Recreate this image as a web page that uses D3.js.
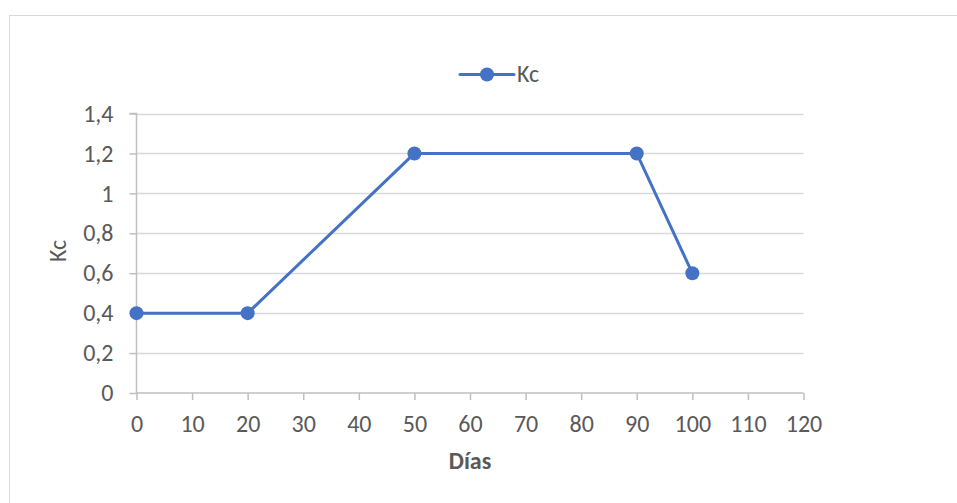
<!DOCTYPE html>
<html><head><meta charset="utf-8">
<script src="https://cdn.jsdelivr.net/npm/d3@7"></script>
<style>
body{margin:0;background:#fff;}
text{font-family:Calibri,Carlito,Lato,"Open Sans",sans-serif;}
</style></head>
<body><svg id="c" width="957" height="503"></svg>
<script>
const days = [0, 20, 50, 90, 100];
const kc = [0.4, 0.4, 1.2, 1.2, 0.6];
const xTicks = [0,10,20,30,40,50,60,70,80,90,100,110,120];
const yTicks = [0,0.2,0.4,0.6,0.8,1.0,1.2,1.4];
const seriesName = "Kc";
const xTitle = "Días";
const yTitle = "Kc";

const FS = "24px";
const svg = d3.select("#c");
svg.append("rect").attr("x",9.5).attr("y",15.5).attr("width",1200).attr("height",800)
  .attr("fill","#fff").attr("stroke","#d9d9d9").attr("stroke-width",1);

const x = d3.scaleLinear().domain([0,120]).range([136.5,803.5]);
const y = d3.scaleLinear().domain([0,1.4]).range([393,113.5]);
const fmt = v => d3.format("")(Math.round(v*10)/10).replace(".", ",");

// gridlines
svg.append("g").selectAll("line").data(yTicks.filter(d=>d>0)).join("line")
  .attr("x1",x(0)).attr("x2",x(120)).attr("y1",d=>Math.round(y(d))+0.5).attr("y2",d=>Math.round(y(d))+0.5)
  .attr("stroke","#d9d9d9").attr("stroke-width",1.5);

// y axis
const ya = svg.append("g").attr("transform",`translate(${x(0)},0)`)
  .call(d3.axisLeft(y).tickValues(yTicks).tickFormat(fmt).tickSize(7).tickPadding(16));
ya.select(".domain").attr("stroke","#bfbfbf").attr("stroke-width",1.5).attr("d",`M-7,${y(1.4)}H0V${y(0)}`);
ya.selectAll(".tick line").attr("stroke","#bfbfbf").attr("stroke-width",1.5);
ya.selectAll(".tick text").attr("fill","#595959").style("font-size",FS);

// x axis
const xa = svg.append("g").attr("transform",`translate(0,${y(0)})`)
  .call(d3.axisBottom(x).tickValues(xTicks).tickFormat(d=>d).tickSize(7).tickPadding(15));
xa.select(".domain").attr("stroke","#bfbfbf").attr("stroke-width",1.5).attr("d",`M${x(0)},0H${x(120)}`);
xa.selectAll(".tick line").attr("stroke","#bfbfbf").attr("stroke-width",1.5);
xa.selectAll(".tick text").attr("fill","#595959").style("font-size",FS);

// titles
svg.append("text").attr("transform",`translate(66,251) rotate(-90)`)
  .attr("text-anchor","middle").attr("fill","#595959").style("font-size",FS).text(yTitle);
svg.append("text").attr("x",470).attr("y",469)
  .attr("text-anchor","middle").attr("fill","#595959").style("font-size",FS).style("font-weight","bold").text(xTitle);

const color = "#4472C4";
const pts = days.map((d,i)=>[d,kc[i]]);
svg.append("path").datum(pts)
  .attr("d",d3.line().x(d=>x(d[0])).y(d=>y(d[1])))
  .attr("fill","none").attr("stroke",color).attr("stroke-width",3).attr("stroke-linejoin","round");
svg.append("g").selectAll("circle").data(pts).join("circle")
  .attr("cx",d=>x(d[0])).attr("cy",d=>y(d[1])).attr("r",7).attr("fill",color);

// legend
const lg = svg.append("g");
lg.append("line").attr("x1",460).attr("x2",514).attr("y1",74.5).attr("y2",74.5)
  .attr("stroke",color).attr("stroke-width",3).attr("stroke-linecap","round");
lg.append("circle").attr("cx",487).attr("cy",74.5).attr("r",7).attr("fill",color);
lg.append("text").attr("x",517).attr("y",82).attr("fill","#595959").style("font-size",FS).text(seriesName);
</script></body></html>
